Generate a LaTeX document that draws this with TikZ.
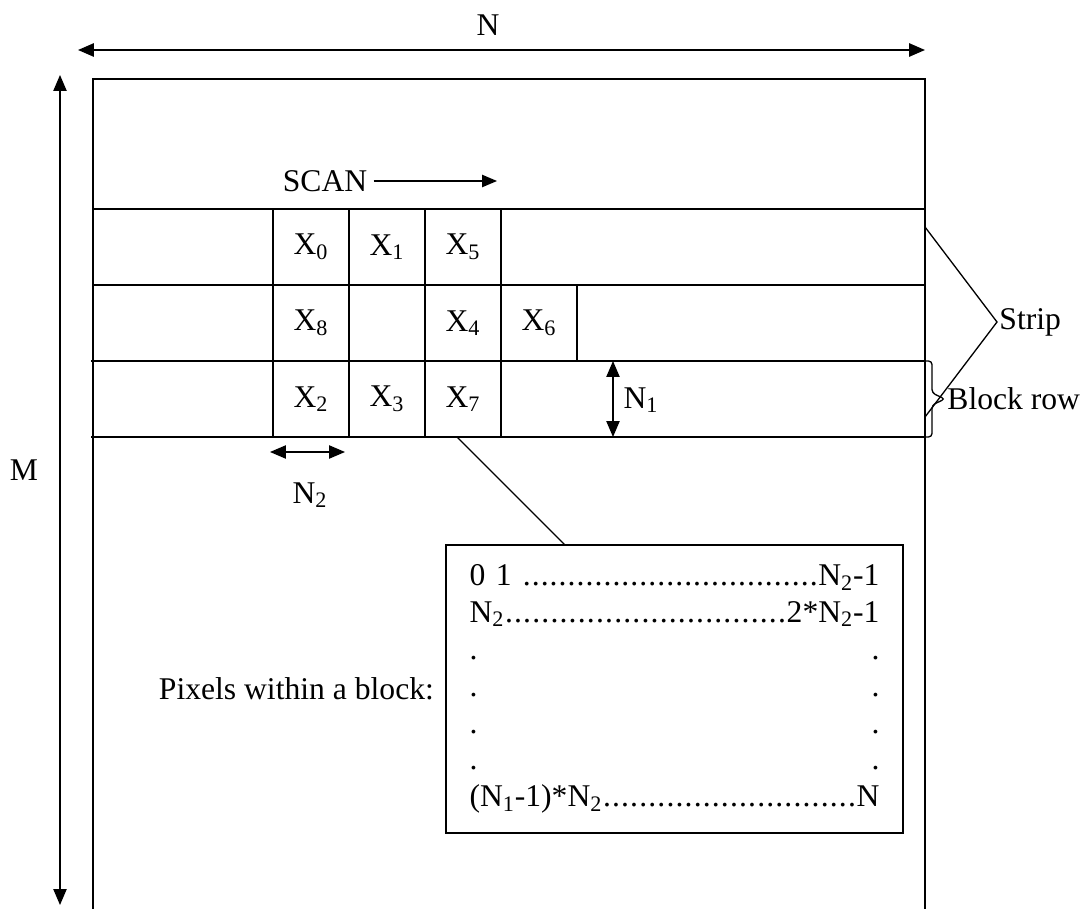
\documentclass[tikz,border=0pt]{standalone}
\usepackage{fontspec}
\setmainfont{Liberation Serif}
\usetikzlibrary{arrows.meta,positioning,calc}

\newcommand{\dotlead}{\xleaders\hbox to 0.28em{\hss.\hss}\hfill}

\tikzset{
  tip/.style={-{Triangle[length=8.5pt,width=7pt]}},
  dimarrow/.style={{Triangle[length=9pt,width=7.5pt]}-{Triangle[length=9pt,width=7.5pt]}},
  blk/.style={draw, minimum width=1.52cm, minimum height=1.52cm, inner sep=0pt, outer sep=0pt},
}

\begin{document}
\begin{tikzpicture}[x=0.02cm, y=-0.02cm, line width=0.75pt, font=\fontsize{18}{21}\selectfont]
    \useasboundingbox (0,0) rectangle (1085,909);

    % Width of the image
    \node (ntop) at (488,25) {N};
    \coordinate (nl) at (78,50);
    \coordinate (nr) at (925,50);
    \draw[dimarrow, line width=1.1pt] (nl) -- (nr);

    % Image frame (cut off at the bottom)
    \draw (93,912) -- (93,79) -- (925,79) -- (925,912);

    % Height of the image
    \coordinate (mt) at (60,75);
    \coordinate (mb) at (60,905);
    \draw[dimarrow] (mt) -- (mb);
    \node (mlbl) at (24,470) {M};

    % Scan direction
    \node (scan) at (325,181) {SCAN};
    \coordinate (scanend) at (497,181);
    \draw[tip] (scan) -- (scanend);

    % Strip boundaries
    \draw (93,209) -- (925,209);
    \draw (93,285) -- (925,285);
    \draw (91,361) -- (925,361);
    \draw (91,437) -- (925,437);

    % Blocks, first row
    \node[blk] (x0) at (311,247) {X\textsubscript{0}};
    \node[blk, right=0pt of x0] (x1) {X\textsubscript{1}};
    \node[blk, right=0pt of x1] (x5) {X\textsubscript{5}};

    % Blocks, second row
    \node[blk, below=0pt of x0] (x8) {X\textsubscript{8}};
    \node[blk, right=0pt of x8] (e1) {};
    \node[blk, right=0pt of e1] (x4) {X\textsubscript{4}};
    \node[blk, right=0pt of x4] (x6) {X\textsubscript{6}};

    % Blocks, third row
    \node[blk, below=0pt of x8] (x2) {X\textsubscript{2}};
    \node[blk, right=0pt of x2] (x3) {X\textsubscript{3}};
    \node[blk, right=0pt of x3] (x7) {X\textsubscript{7}};

    % Block height
    \coordinate (n1t) at (613,361);
    \coordinate (n1b) at (613,437);
    \draw[dimarrow] (n1t) -- (n1b);
    \node (n1) at (641,400) {N\textsubscript{1}};

    % Block width
    \coordinate (n2l) at (270,452);
    \coordinate (n2r) at (345,452);
    \draw[dimarrow] (n2l) -- (n2r);
    \node (n2) at (310,495) {N\textsubscript{2}};

    % Strip label
    \node[anchor=west, inner sep=1pt] (strip) at (997,322) {Strip};
    \coordinate (st) at (925,227);
    \coordinate (sb) at (925,417);
    \draw (st) -- (strip.west) -- (sb);

    % Block row label with brace
    \node[anchor=west, inner sep=1pt] (blkrow) at (945,399) {Block row};
    \draw[rounded corners=2pt] (925,361) -- (932,361) -- (932,393) -- (blkrow.west) -- (932,405) -- (932,437) -- (925,437);

    % Pixels inside one block
    \node[draw, text width=8.2cm, inner xsep=0.47cm, minimum height=5.76cm, align=left] (pix) at (674.5,689) {
        0 1 \dotlead N\textsubscript{2}-1\\
        N\textsubscript{2}\dotlead 2*N\textsubscript{2}-1\\
        .\hfill .\\
        .\hfill .\\
        .\hfill .\\
        .\hfill .\\
        (N\textsubscript{1}-1)*N\textsubscript{2}\dotlead N};
    \node[left=0.1cm of pix] (pixlbl) {Pixels within a block:};

    % Leader from block to pixel box
    \coordinate (lead) at (565,545);
    \draw ($(x7.south)+(-6,0)$) -- (lead);

\end{tikzpicture}
\end{document}
